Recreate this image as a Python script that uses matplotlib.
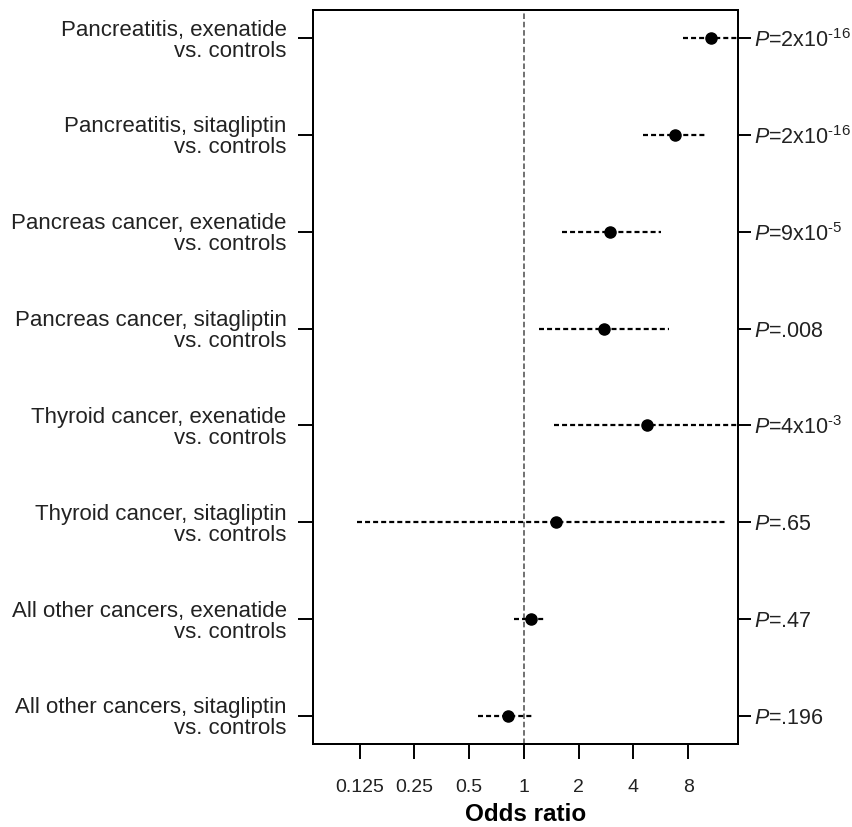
import matplotlib
matplotlib.use("Agg")
import matplotlib.pyplot as plt
import numpy as np

plt.rcParams['font.family'] = ['Liberation Sans', 'DejaVu Sans']
plt.rcParams['mathtext.fontset'] = 'custom'
plt.rcParams['mathtext.rm'] = 'Liberation Sans'
plt.rcParams['mathtext.it'] = 'Liberation Sans:italic'
plt.rcParams['lines.scale_dashes'] = False

# comparisons, top to bottom
labels = [
    "Pancreatitis, exenatide\nvs. controls",
    "Pancreatitis, sitagliptin\nvs. controls",
    "Pancreas cancer, exenatide\nvs. controls",
    "Pancreas cancer, sitagliptin\nvs. controls",
    "Thyroid cancer, exenatide\nvs. controls",
    "Thyroid cancer, sitagliptin\nvs. controls",
    "All other cancers, exenatide\nvs. controls",
    "All other cancers, sitagliptin\nvs. controls",
]
odds = [10.6, 6.8, 2.96, 2.76, 4.77, 1.50, 1.10, 0.82]
ci_lo = [7.5, 4.5, 1.61, 1.21, 1.47, 0.121, 0.88, 0.56]
ci_hi = [16.0, 10.1, 5.7, 6.3, 16.0, 13.0, 1.30, 1.12]
p_labels = [
    r"$P$=2x10$^{\text{-16}}$",
    r"$P$=2x10$^{\text{-16}}$",
    r"$P$=9x10$^{\text{-5}}$",
    r"$P$=.008",
    r"$P$=4x10$^{\text{-3}}$",
    r"$P$=.65",
    r"$P$=.47",
    r"$P$=.196",
]
xticks = [0.125, 0.25, 0.5, 1, 2, 4, 8]
xticklabels = ["0.125", "0.25", "0.5", "1", "2", "4", "8"]

fig = plt.figure(figsize=(8.53, 8.27), dpi=100)
ax = fig.add_axes([313 / 853, 1 - 744 / 827, 425.5 / 853, 734 / 827])

rows = np.arange(1, len(labels) + 1)

ax.axvline(1, color="#666666", lw=1.3, linestyle=(0, (4, 2)), zorder=1)
for y, lo, hi in zip(rows, ci_lo, ci_hi):
    ax.plot([lo, hi], [y, y], color="black", lw=1.6, linestyle=(0, (3.6, 2.2)), zorder=2)
ax.plot(odds, rows, "o", color="black", markersize=8, zorder=3)

ax.set_xscale("log", base=2)
ax.set_xlim(0.0694, 15.1)
ax.set_ylim(8.29, 0.71)
ax.set_xticks(xticks)
ax.set_xticklabels(xticklabels, fontsize=14, color="#222222")
ax.minorticks_off()
ax.set_yticks(rows)
ax.set_yticklabels(labels, fontsize=16, ha="right", multialignment="right",
                   linespacing=1.0, color="#222222")
ax.set_xlabel("Odds ratio", fontsize=17.5, fontweight="bold", labelpad=5)

for s in ax.spines.values():
    s.set_linewidth(1.4)
ax.tick_params(axis="both", direction="out", length=11, width=1.4)
ax.tick_params(axis="x", pad=14)
ax.tick_params(axis="y", pad=8)

ax2 = ax.twinx()
ax2.set_ylim(ax.get_ylim())
ax2.set_yticks(rows)
ax2.set_yticklabels(p_labels, fontsize=15.5, color="#222222")
ax2.tick_params(axis="y", direction="out", length=9, width=1.4, pad=2)
for s in ax2.spines.values():
    s.set_linewidth(1.4)

fig.savefig("out.png", dpi=100)
